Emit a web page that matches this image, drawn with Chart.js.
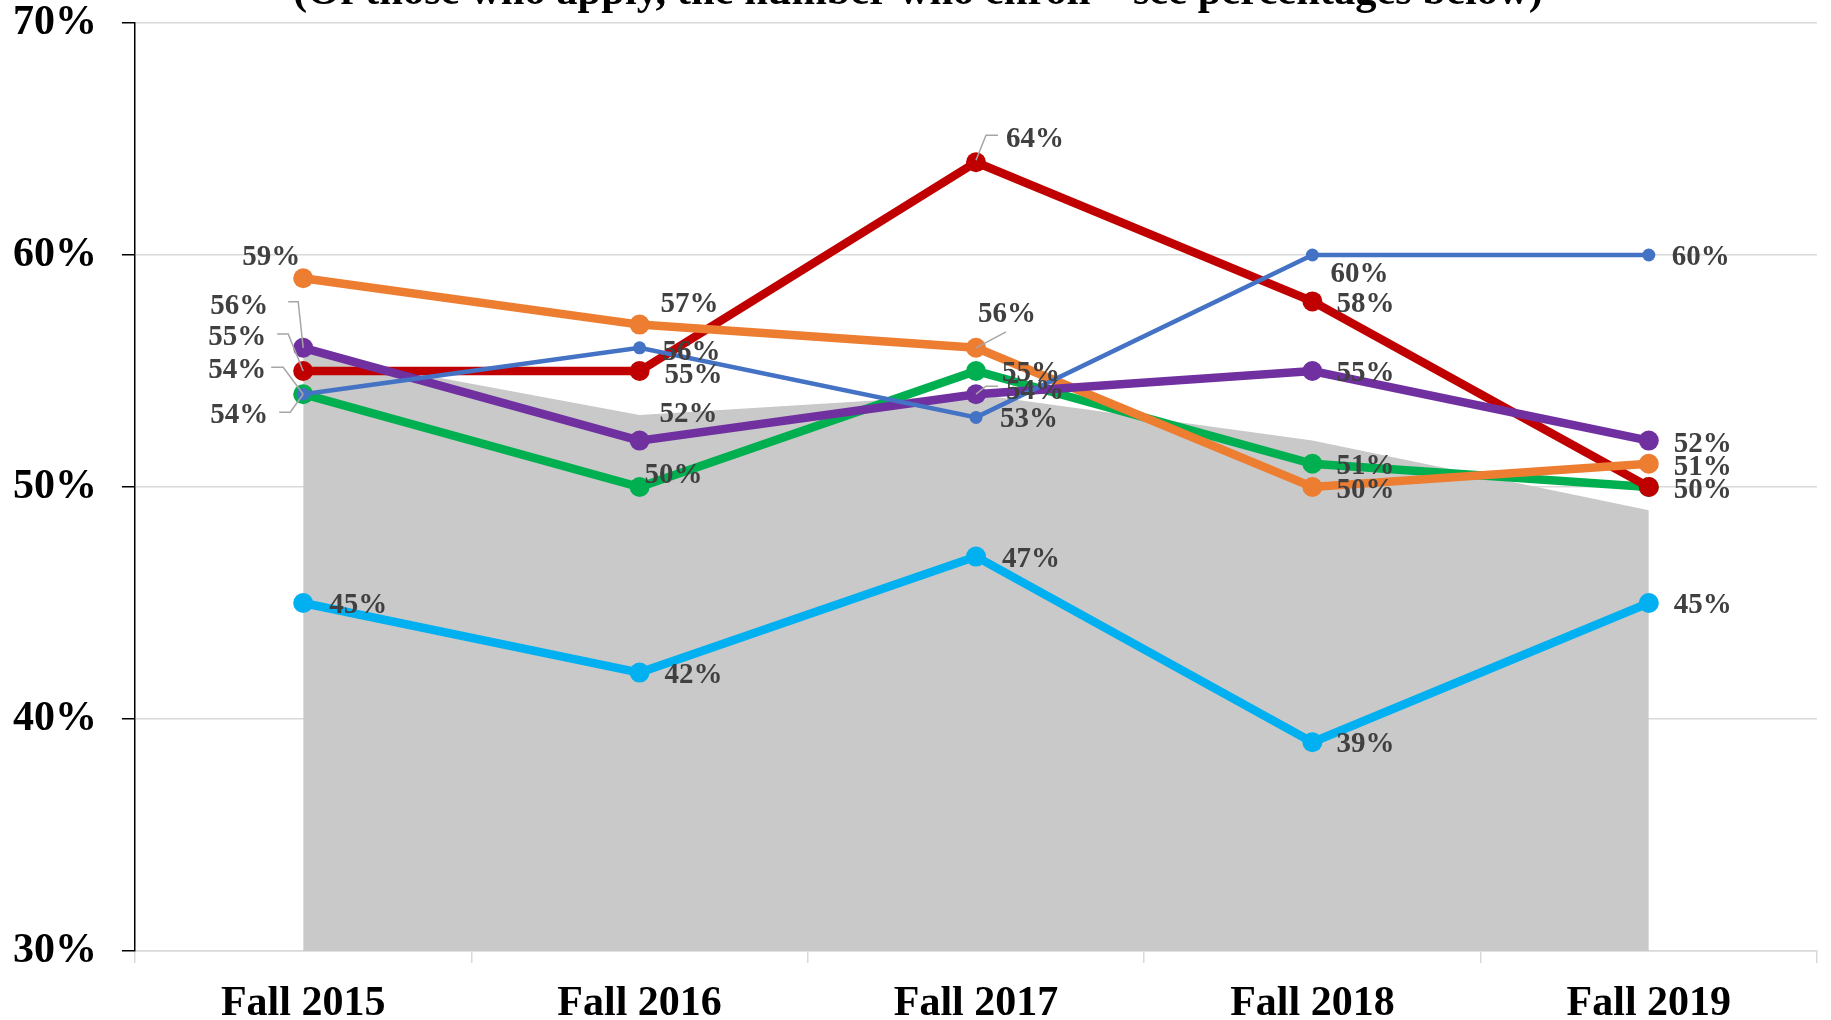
<!DOCTYPE html>
<html><head><meta charset="utf-8">
<script src="https://cdn.jsdelivr.net/npm/chart.js@4.4.1/dist/chart.umd.min.js"></script>
<style>html,body{margin:0;padding:0;background:#fff;overflow:hidden}canvas{display:block}</style>
</head><body>
<canvas id="c" width="1831" height="1020"></canvas>
<script>
// ---- data ----
const categories = ['Fall 2015', 'Fall 2016', 'Fall 2017', 'Fall 2018', 'Fall 2019'];
const seriesRed = [55, 55, 64, 58, 50];
const seriesOrange = [59, 57, 56, 50, 51];
const seriesBlue = [54, 56, 53, 60, 60];
const seriesPurple = [56, 52, 54, 55, 52];
const seriesGreen = [54, 50, 55, 51, 50];
const seriesLightBlue = [45, 42, 47, 39, 45];
const seriesGrayArea = [55.8, 53.1, 54, 52, 49];
const yTickValues = [30, 40, 50, 60, 70];
const titleText = '(Of those who apply, the number who enroll \u2013 see percentages below)';

// ---- label placement (styling, relative to each point) ----
const labelLayout = {
  red: [[-37, -36, 'right', [[-26, -37], [-15, -37], [0, 0]]], [25, 2, 'left'], [30, -25, 'left', [[0, -2], [10, -27], [22, -27]]], [24, 1, 'left'], [25, 1, 'left']],
  orange: [[-3, -23, 'right'], [21, -23, 'left'], [2, -36, 'left', [[0, 0], [30, -16]]], [24, 1, 'left'], [25, 1, 'left']],
  blue: [[-35, 19, 'right', [[-24, 18], [-13, 18], [0, 0]]], [23, 2, 'left'], [24, 0, 'left'], [18, 17, 'left'], [23, 0, 'left']],
  purple: [[-35, -44, 'right', [[-15, -46], [-5, -46], [0, 0]]], [20, -29, 'left'], [30, -5, 'left', [[0, 0], [10, -8], [22, -8]]], [24, 0, 'left'], [25, 1, 'left']],
  green: [[-37, -26, 'right', [[-32, -27], [-20, -27], [0, 0]]], [5, -14, 'left'], [26, 0, 'left'], [24, 0, 'left'], null],
  lightblue: [[26, 0, 'left'], [25, 0, 'left'], [26, 0, 'left'], [24, 0, 'left'], [25, 0, 'left']]
};

const SERIF = '"Liberation Serif", "Times New Roman", serif';

function lineDs(key, data, color, bw, r) {
  return {
    key, data, borderColor: color, backgroundColor: color, borderWidth: bw,
    pointRadius: r, pointHoverRadius: r, pointBorderWidth: 0, pointBackgroundColor: color,
    fill: false, tension: 0
  };
}

const labelPlugin = {
  id: 'pctLabels',
  afterDatasetsDraw(chart) {
    const ctx = chart.ctx;
    chart.data.datasets.forEach((ds, di) => {
      const lay = labelLayout[ds.key];
      if (!lay) return;
      const meta = chart.getDatasetMeta(di);
      meta.data.forEach((pt, i) => {
        const L = lay[i];
        if (!L) return;
        const [dx, dy, align, leader] = L;
        if (leader) {
          ctx.save();
          ctx.strokeStyle = '#A6A6A6';
          ctx.lineWidth = 1.5;
          ctx.beginPath();
          leader.forEach((p, k) => {
            const X = pt.x + p[0], Y = pt.y + p[1];
            if (k) ctx.lineTo(X, Y); else ctx.moveTo(X, Y);
          });
          ctx.stroke();
          ctx.restore();
        }
        ctx.save();
        ctx.font = 'bold 29px ' + SERIF;
        ctx.fillStyle = '#404040';
        ctx.textAlign = align;
        ctx.textBaseline = 'alphabetic';
        ctx.fillText(ds.data[i] + '%', pt.x + dx, pt.y + dy + 10);
        ctx.restore();
      });
    });
  }
};

const titlePlugin = {
  id: 'clippedTitle',
  afterDraw(chart) {
    const ctx = chart.ctx;
    ctx.save();
    ctx.font = 'bold 42.5px ' + SERIF;
    ctx.fillStyle = '#000';
    ctx.textAlign = 'center';
    ctx.textBaseline = 'alphabetic';
    ctx.fillText(titleText, 918, 4);
    ctx.restore();
  }
};

new Chart(document.getElementById('c'), {
  type: 'line',
  data: {
    labels: categories,
    datasets: [
      lineDs('blue', seriesBlue, '#4472C4', 4.5, 6.5),
      lineDs('purple', seriesPurple, '#7030A0', 8.5, 10),
      lineDs('orange', seriesOrange, '#ED7D31', 8.5, 10),
      lineDs('red', seriesRed, '#C00000', 8.5, 10),
      lineDs('green', seriesGreen, '#00B050', 8.5, 10),
      lineDs('lightblue', seriesLightBlue, '#00B0F0', 8.5, 10),
      {
        key: 'gray', data: seriesGrayArea, borderWidth: 0, borderColor: 'rgba(0,0,0,0)',
        backgroundColor: '#C9C9C9', pointRadius: 0, pointHoverRadius: 0, fill: 'start', tension: 0
      }
    ]
  },
  options: {
    responsive: false,
    animation: false,
    devicePixelRatio: 1,
    events: [],
    layout: { padding: { top: 23, right: 14, left: 0, bottom: 0 } },
    plugins: { legend: { display: false }, tooltip: { enabled: false }, title: { display: false } },
    scales: {
      x: {
        type: 'category',
        offset: true,
        grid: { display: true, drawOnChartArea: false, drawTicks: true, tickLength: 12, tickColor: '#D9D9D9', lineWidth: 1.5, offset: true },
        border: { display: true, color: '#D9D9D9', width: 1.5 },
        ticks: { color: '#000', font: { family: SERIF, size: 42, weight: 'bold', lineHeight: 1.2 }, padding: 16, maxRotation: 0, autoSkip: false },
        afterFit(scale) { scale.height = 69; scale.paddingLeft = 0; scale.paddingRight = 0; }
      },
      y: {
        min: 30, max: 70,
        afterBuildTicks(scale) { scale.ticks = yTickValues.map(v => ({ value: v })); },
        grid: { color: '#D9D9D9', lineWidth: 1.5, drawTicks: true, tickLength: 13, tickColor: '#000' },
        border: { display: true, color: '#000', width: 1.5 },
        ticks: { color: '#000', font: { family: SERIF, size: 42, weight: 'bold', lineHeight: 1.0 }, padding: 25, callback: v => v + '%' },
        afterFit(scale) { scale.width = 135; scale.paddingTop = 0; scale.paddingBottom = 0; }
      }
    }
  },
  plugins: [labelPlugin, titlePlugin]
});
</script>
</body></html>
